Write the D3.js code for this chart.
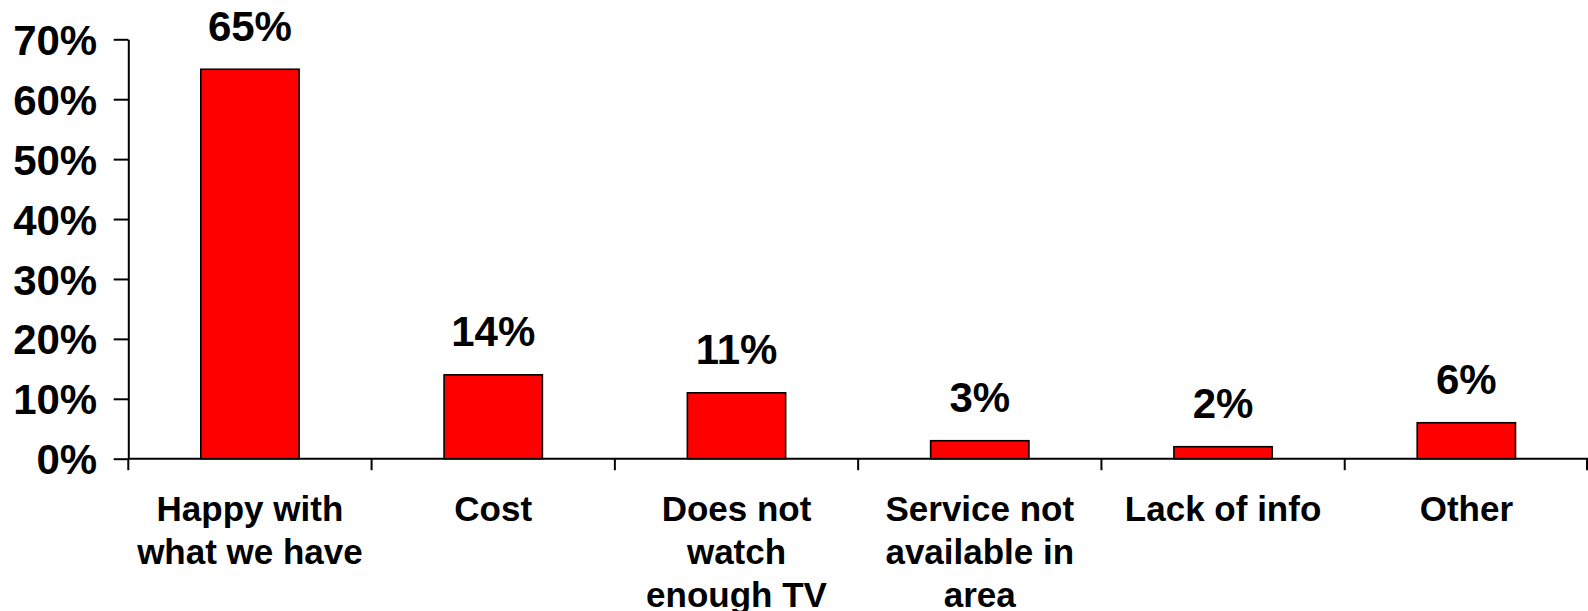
<!DOCTYPE html>
<html>
<head>
<meta charset="utf-8">
<script src="https://cdn.jsdelivr.net/npm/d3@7"></script>
<style>
  html, body { margin: 0; padding: 0; background: #fff; }
  svg { display: block; }
  text { font-family: "Liberation Sans", Arial, sans-serif; font-weight: bold; fill: #000; }
</style>
</head>
<body>
<svg id="chart" width="1588" height="611"></svg>
<script>
// Reasons given for not taking up the service
const categories = [
  "Happy with\nwhat we have",
  "Cost",
  "Does not\nwatch\nenough TV",
  "Service not\navailable in\narea",
  "Lack of info",
  "Other"
];
const shares = [0.65, 0.14, 0.11, 0.03, 0.02, 0.06];
const yTicks = [0, 0.1, 0.2, 0.3, 0.4, 0.5, 0.6, 0.7];

const svg = d3.select("#chart");
const plotLeft = 128.3, plotRight = 1588, plotTop = 39.3, plotBottom = 458.7;

const x = d3.scaleBand()
  .domain(categories)
  .range([plotLeft, plotRight])
  .paddingInner(0.596)
  .paddingOuter(0.298);

const y = d3.scaleLinear().domain([0, 0.7]).range([plotBottom, plotTop]);

// Y axis
const yAxis = svg.append("g")
  .attr("transform", `translate(${plotLeft},0)`)
  .call(d3.axisLeft(y).tickValues(yTicks).tickFormat(d3.format(".0%")).tickSize(14.6).tickPadding(16.5).tickSizeOuter(0));
yAxis.select(".domain").attr("stroke", "#000").attr("stroke-width", 2);
yAxis.selectAll(".tick line").attr("stroke", "#000").attr("stroke-width", 2);
yAxis.selectAll(".tick text").attr("font-size", 42).attr("dy", "0.36em");

// X baseline and category boundary ticks
svg.append("line")
  .attr("x1", plotLeft).attr("x2", plotRight)
  .attr("y1", y(0)).attr("y2", y(0))
  .attr("stroke", "#000").attr("stroke-width", 2);

const step = x.step();
const boundaries = d3.range(categories.length + 1).map(i => plotLeft + i * step);
svg.append("g").selectAll("line")
  .data(boundaries)
  .join("line")
  .attr("x1", d => Math.min(d, plotRight - 1)).attr("x2", d => Math.min(d, plotRight - 1))
  .attr("y1", y(0)).attr("y2", y(0) + 11.5)
  .attr("stroke", "#000").attr("stroke-width", 2);

// Bars
svg.append("g").selectAll("rect")
  .data(categories)
  .join("rect")
  .attr("x", d => x(d))
  .attr("width", x.bandwidth())
  .attr("y", (d, i) => y(shares[i]))
  .attr("height", (d, i) => y(0) - y(shares[i]))
  .attr("fill", "#ff0000")
  .attr("stroke", "#000")
  .attr("stroke-width", 1.6);

// Value labels
svg.append("g").selectAll("text")
  .data(categories)
  .join("text")
  .attr("x", d => x(d) + x.bandwidth() / 2)
  .attr("y", (d, i) => y(shares[i]) - 28.5)
  .attr("text-anchor", "middle")
  .attr("font-size", 42)
  .text((d, i) => d3.format(".0%")(shares[i]));

// Category labels (multi-line)
const cat = svg.append("g").selectAll("text")
  .data(categories)
  .join("text")
  .attr("text-anchor", "middle")
  .attr("font-size", 35)
  .attr("transform", d => `translate(${x(d) + x.bandwidth() / 2},521)`);
cat.selectAll("tspan")
  .data(d => d.split("\n"))
  .join("tspan")
  .attr("x", 0)
  .attr("y", (d, i) => i * 43)
  .text(d => d);
</script>
</body>
</html>
